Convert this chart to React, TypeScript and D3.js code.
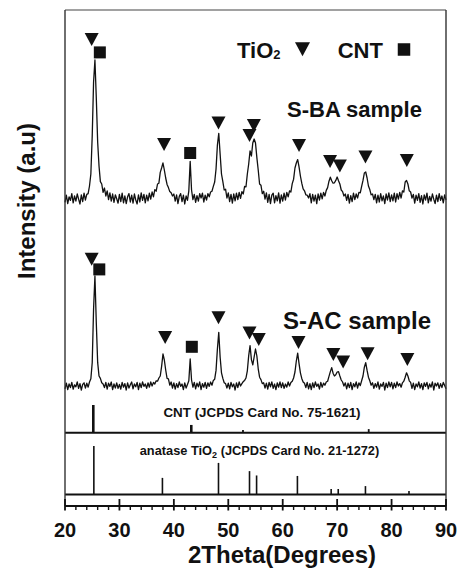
import React from 'react';
import * as d3 from 'd3';

// 2theta sampling of the two measured patterns (deg)
const twoTheta = [
  20, 20.25, 20.5, 20.75, 21, 21.25, 21.5, 21.75, 22, 22.25, 22.5, 22.75, 23, 23.25, 23.5, 23.75, 24, 24.25, 24.5, 24.75,
  25, 25.25, 25.5, 25.75, 26, 26.25, 26.5, 26.75, 27, 27.25, 27.5, 27.75, 28, 28.25, 28.5, 28.75, 29, 29.25, 29.5, 29.75,
  30, 30.25, 30.5, 30.75, 31, 31.25, 31.5, 31.75, 32, 32.25, 32.5, 32.75, 33, 33.25, 33.5, 33.75, 34, 34.25, 34.5, 34.75,
  35, 35.25, 35.5, 35.75, 36, 36.25, 36.5, 36.75, 37, 37.25, 37.5, 37.75, 38, 38.25, 38.5, 38.75, 39, 39.25, 39.5, 39.75,
  40, 40.25, 40.5, 40.75, 41, 41.25, 41.5, 41.75, 42, 42.25, 42.5, 42.75, 43, 43.25, 43.5, 43.75, 44, 44.25, 44.5, 44.75,
  45, 45.25, 45.5, 45.75, 46, 46.25, 46.5, 46.75, 47, 47.25, 47.5, 47.75, 48, 48.25, 48.5, 48.75, 49, 49.25, 49.5, 49.75,
  50, 50.25, 50.5, 50.75, 51, 51.25, 51.5, 51.75, 52, 52.25, 52.5, 52.75, 53, 53.25, 53.5, 53.75, 54, 54.25, 54.5, 54.75,
  55, 55.25, 55.5, 55.75, 56, 56.25, 56.5, 56.75, 57, 57.25, 57.5, 57.75, 58, 58.25, 58.5, 58.75, 59, 59.25, 59.5, 59.75,
  60, 60.25, 60.5, 60.75, 61, 61.25, 61.5, 61.75, 62, 62.25, 62.5, 62.75, 63, 63.25, 63.5, 63.75, 64, 64.25, 64.5, 64.75,
  65, 65.25, 65.5, 65.75, 66, 66.25, 66.5, 66.75, 67, 67.25, 67.5, 67.75, 68, 68.25, 68.5, 68.75, 69, 69.25, 69.5, 69.75,
  70, 70.25, 70.5, 70.75, 71, 71.25, 71.5, 71.75, 72, 72.25, 72.5, 72.75, 73, 73.25, 73.5, 73.75, 74, 74.25, 74.5, 74.75,
  75, 75.25, 75.5, 75.75, 76, 76.25, 76.5, 76.75, 77, 77.25, 77.5, 77.75, 78, 78.25, 78.5, 78.75, 79, 79.25, 79.5, 79.75,
  80, 80.25, 80.5, 80.75, 81, 81.25, 81.5, 81.75, 82, 82.25, 82.5, 82.75, 83, 83.25, 83.5, 83.75, 84, 84.25, 84.5, 84.75,
  85, 85.25, 85.5, 85.75, 86, 86.25, 86.5, 86.75, 87, 87.25, 87.5, 87.75, 88, 88.25, 88.5, 88.75, 89, 89.25, 89.5, 89.75,
  90,
];

// S-BA sample intensity (counts)
const sampleBA = [
  8, 44, 2, 36, 18, 52, 6, 40, 14, 50, 24, 0, 46, 12, 54, 20, 48, 52, 90, 150,
  340, 610, 720, 530, 310, 190, 112, 100, 58, 80, 40, 66, 22, 56, 14, 50, 8, 46, 26, 4,
  48, 12, 54, 6, 40, 2, 36, 52, 10, 44, 4, 50, 20, 0, 46, 10, 56, 18, 48, 6,
  44, 16, 54, 24, 60, 36, 72, 64, 100, 104, 158, 180, 205, 170, 130, 98, 82, 62, 56, 40,
  50, 14, 46, 2, 38, 52, 12, 44, 0, 40, 18, 66, 213, 70, 22, 48, 8, 42, 14, 52,
  30, 54, 10, 44, 20, 52, 36, 60, 64, 88, 110, 175, 295, 353, 250, 150, 112, 70, 74, 30,
  56, 12, 48, 4, 50, 16, 54, 22, 58, 28, 62, 50, 88, 86, 150, 200, 266, 240, 305, 325,
  305, 232, 170, 100, 94, 52, 64, 24, 56, 8, 48, 2, 44, 54, 6, 42, 16, 56, 4, 46,
  14, 54, 20, 58, 36, 66, 60, 102, 124, 180, 205, 222, 186, 140, 104, 76, 66, 46, 44, 30,
  52, 6, 48, 14, 44, 2, 50, 20, 54, 26, 58, 40, 68, 82, 114, 134, 116, 104, 106, 118,
  135, 116, 100, 70, 62, 40, 50, 18, 48, 4, 42, 12, 54, 22, 50, 30, 58, 56, 88, 118,
  155, 160, 130, 90, 72, 46, 50, 22, 48, 6, 44, 10, 52, 16, 40, 2, 50, 20, 56, 12,
  46, 16, 54, 10, 52, 24, 58, 30, 66, 60, 110, 118, 100, 66, 60, 30, 48, 4, 44, 18,
  52, 8, 42, 0, 46, 20, 54, 6, 38, 14, 50, 24, 2, 44, 12, 52, 18, 40, 6, 46,
  20,
];

// S-AC sample intensity (counts)
const sampleAC = [
  6, 34, 2, 30, 12, 38, 4, 26, 16, 40, 8, 32, 0, 28, 36, 10, 34, 14, 40, 56,
  136, 405, 570, 335, 138, 70, 58, 36, 30, 12, 38, 4, 34, 18, 40, 2, 30, 10, 36, 8,
  28, 4, 38, 14, 32, 0, 36, 10, 26, 40, 6, 30, 16, 38, 2, 34, 12, 40, 18, 30,
  8, 36, 14, 40, 20, 38, 30, 46, 44, 60, 70, 118, 180, 150, 100, 58, 56, 24, 40, 10,
  36, 4, 32, 12, 40, 18, 30, 2, 36, 10, 28, 46, 155, 50, 14, 38, 6, 34, 16, 40,
  2, 32, 14, 38, 8, 36, 18, 40, 24, 48, 54, 98, 205, 288, 165, 86, 58, 36, 32, 10,
  34, 6, 38, 16, 30, 0, 36, 12, 40, 20, 32, 42, 48, 60, 96, 172, 222, 152, 126, 165,
  205, 170, 106, 64, 52, 32, 36, 10, 34, 4, 38, 16, 40, 8, 30, 2, 36, 14, 40, 12,
  36, 8, 30, 14, 40, 20, 38, 44, 60, 90, 145, 184, 132, 86, 58, 40, 34, 12, 38, 6,
  32, 2, 36, 12, 40, 18, 30, 4, 38, 14, 34, 24, 40, 44, 68, 92, 112, 84, 70, 76,
  90, 92, 70, 50, 40, 20, 36, 6, 34, 12, 38, 2, 32, 16, 40, 10, 36, 22, 46, 70,
  114, 137, 98, 64, 46, 24, 36, 8, 32, 14, 40, 4, 30, 18, 38, 0, 34, 12, 40, 16,
  38, 6, 34, 12, 40, 20, 32, 14, 36, 44, 64, 86, 70, 46, 38, 8, 34, 2, 30, 16,
  40, 10, 32, 2, 36, 18, 38, 6, 30, 14, 40, 0, 34, 20, 36, 8, 32, 12, 38, 22,
  6,
];

const baOffset = 930;
const acOffset = 0;

// peak markers: [2theta, level (counts), kind]
const baMarkers = [
  [24.9, 823, 'tri'], [26.4, 758, 'sq'], [38.2, 298, 'tri'], [43.0, 255, 'sq'],
  [48.2, 405, 'tri'], [53.9, 343, 'tri'], [54.7, 393, 'tri'], [63.0, 293, 'tri'],
  [68.7, 213, 'tri'], [70.5, 190, 'tri'], [75.2, 235, 'tri'], [82.8, 218, 'tri'],
];
const acMarkers = [
  [24.9, 654, 'tri'], [26.3, 603, 'sq'], [38.4, 263, 'tri'], [43.3, 216, 'sq'],
  [48.2, 361, 'tri'], [53.9, 285, 'tri'], [55.6, 252, 'tri'], [62.9, 238, 'tri'],
  [69.3, 177, 'tri'], [71.1, 140, 'tri'], [75.6, 181, 'tri'], [82.9, 152, 'tri'],
];

// reference cards
const cntAngles = [25.2, 43.2, 52.7, 75.8];
const cntRel = [100, 28, 10, 13];
const anataseAngles = [25.3, 37.9, 48.2, 53.9, 55.2, 62.7, 68.9, 70.2, 75.2, 83.2];
const anataseRel = [100, 34, 65, 48, 39, 38, 11, 11, 17, 7];

const xTicks = [20, 30, 40, 50, 60, 70, 80, 90];

const W = 460;
const H = 569;
const left = 65;
const right = 446;
const top = 10;
const axisY = 506;
const font = 'Liberation Sans, Arial, Helvetica, sans-serif';
const ink = '#111';

function Tri({ cx, cy, w = 14, h = 13 }) {
  return (
    <path
      d={`M${cx - w / 2},${cy - h / 2}L${cx + w / 2},${cy - h / 2}L${cx},${cy + h / 2}Z`}
      fill={ink}
    />
  );
}

function Sq({ cx, cy, s = 12 }) {
  return <rect x={cx - s / 2} y={cy - s / 2} width={s} height={s} fill={ink} />;
}

export default function App() {
  const x = d3.scaleLinear().domain([20, 90]).range([left, right]);
  const y = d3.scaleLinear().domain([0, 1900]).range([390, top]);
  const yCnt = d3.scaleLinear().domain([0, 100]).range([432.7, 405]);
  const yAna = d3.scaleLinear().domain([0, 100]).range([494.3, 446]);

  const lineFor = (offset) =>
    d3
      .line()
      .x((d, i) => x(twoTheta[i]))
      .y((d) => y(d + offset));

  const minorTicks = x.ticks(35).filter((t) => t % 10 !== 0);

  const markers = (list, offset) =>
    list.map(([a, v, kind], i) =>
      kind === 'tri' ? (
        <Tri key={i} cx={x(a)} cy={y(v + offset)} />
      ) : (
        <Sq key={i} cx={x(a)} cy={y(v + offset)} />
      )
    );

  return (
    <svg
      width={W}
      height={H}
      style={{ position: 'absolute', left: 0, top: 0, background: '#fff' }}
      fontFamily={font}
      fontWeight="bold"
    >
      <rect width={W} height={H} fill="#fff" />

      {/* measured patterns */}
      <path d={lineFor(baOffset)(sampleBA)} fill="none" stroke={ink} strokeWidth={1.3} strokeLinejoin="round" />
      <path d={lineFor(acOffset)(sampleAC)} fill="none" stroke={ink} strokeWidth={1.3} strokeLinejoin="round" />
      {markers(baMarkers, baOffset)}
      {markers(acMarkers, acOffset)}

      {/* legend */}
      <text x={237} y={58.3} fontSize={22} fill={ink}>
        TiO<tspan fontSize={13} dy={1}>2</tspan>
      </text>
      <Tri cx={302.5} cy={49.2} w={15} h={14} />
      <text x={337.7} y={58.3} fontSize={22} fill={ink}>CNT</text>
      <Sq cx={404} cy={49.5} s={12.5} />

      <text x={287} y={116.5} fontSize={22} fill={ink}>S-BA sample</text>
      <text x={283} y={329.3} fontSize={24} fill={ink}>S-AC sample</text>

      {/* reference card panels */}
      {cntAngles.map((a, i) => (
        <line
          key={i}
          x1={x(a)}
          x2={x(a)}
          y1={yCnt(0)}
          y2={yCnt(cntRel[i])}
          stroke={ink}
          strokeWidth={i < 2 ? 2.6 : 1.8}
        />
      ))}
      <text x={262} y={416.7} fontSize={13.4} textAnchor="middle" fill={ink}>
        CNT (JCPDS Card No. 75-1621)
      </text>
      {anataseAngles.map((a, i) => (
        <line
          key={i}
          x1={x(a)}
          x2={x(a)}
          y1={yAna(0)}
          y2={yAna(anataseRel[i])}
          stroke={ink}
          strokeWidth={1.6}
        />
      ))}
      <text x={259.5} y={455} fontSize={12.8} textAnchor="middle" fill={ink}>
        anatase TiO<tspan fontSize={9} dy={3}>2</tspan>
        <tspan dy={-3}> (JCPDS Card No. 21-1272)</tspan>
      </text>

      <line x1={left} x2={right} y1={432.7} y2={432.7} stroke={ink} strokeWidth={2} />
      <line x1={left} x2={right} y1={494.5} y2={494.5} stroke={ink} strokeWidth={2} />

      {/* frame */}
      <line x1={left} x2={right} y1={top} y2={top} stroke="#444" strokeWidth={1.2} />
      <line x1={left} x2={left} y1={top} y2={axisY} stroke="#333" strokeWidth={1.4} />
      <line x1={right} x2={right} y1={top} y2={axisY} stroke="#333" strokeWidth={1.4} />

      {/* x axis */}
      <line x1={left} x2={right} y1={axisY} y2={axisY} stroke={ink} strokeWidth={2} />
      {minorTicks.map((t) => (
        <line key={t} x1={x(t)} x2={x(t)} y1={axisY} y2={axisY + 4} stroke={ink} strokeWidth={1.4} />
      ))}
      {xTicks.map((t) => (
        <g key={t}>
          <line x1={x(t)} x2={x(t)} y1={axisY - 7} y2={axisY + 4.5} stroke={ink} strokeWidth={1.8} />
          <text x={x(t)} y={537} fontSize={20} textAnchor="middle" fill={ink}>
            {t}
          </text>
        </g>
      ))}
      <text x={282} y={563} fontSize={24} textAnchor="middle" fill={ink}>
        2Theta(Degrees)
      </text>

      <text
        transform="translate(35,201) rotate(-90)"
        fontSize={24}
        textAnchor="middle"
        fill={ink}
      >
        Intensity (a.u)
      </text>
    </svg>
  );
}
